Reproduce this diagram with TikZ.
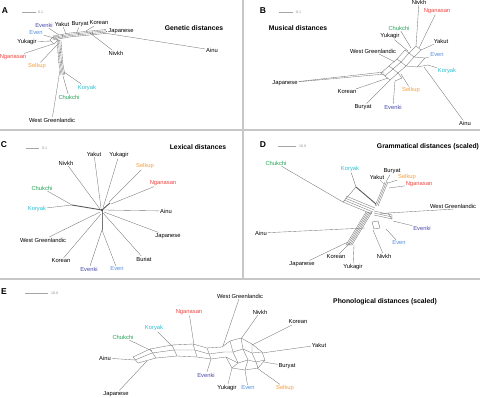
\documentclass[tikz,border=0pt]{standalone}
\usepackage{fontspec}
\setmainfont{Liberation Sans}
\definecolor{ngared}{RGB}{238,66,62}
\definecolor{selorange}{RGB}{245,160,62}
\definecolor{korcyan}{RGB}{40,192,210}
\definecolor{chugreen}{RGB}{34,160,84}
\definecolor{evkblue}{RGB}{72,72,172}
\definecolor{evnblue}{RGB}{84,140,222}
\definecolor{netgray}{RGB}{118,118,118}

\begin{document}
\begin{tikzpicture}[x=1pt,y=-1pt,
    lbl/.style={font=\fontsize{5.8}{7}\selectfont, inner sep=0.8pt},
    ttl/.style={font=\bfseries\fontsize{6.8}{8}\selectfont},
    pnl/.style={font=\bfseries\fontsize{8.5}{9}\selectfont},
    net/.style={draw=netgray, line width=0.35pt},
    leaf/.style={draw=netgray, line width=0.35pt},
    trunk/.style={draw=black!65, line width=0.9pt},
    sep/.style={draw=black!22, line width=1.3pt},
    bar/.style={draw=black!35, line width=0.6pt},
    barlbl/.style={font=\fontsize{3.6}{4}\selectfont, text=black!45, anchor=west, inner sep=1pt}]
\useasboundingbox (0,0) rectangle (480,397);

% panel frames
\draw[sep] (0,130) -- (480,130);
\draw[sep] (0,279) -- (480,279);
\draw[sep] (243,0) -- (243,279);

% ---------------- A: genetic
\node[pnl] (A) at (5,11) {A};
\coordinate (A-bar1) at (22,12); \coordinate (A-bar2) at (36,12);
\draw[bar] (A-bar1) -- (A-bar2);
\node[barlbl] (A-scale) at (37,12) {0.1};
\node[ttl] (A-title) at (194,28) {Genetic distances};

\foreach \d in {0,1.3,2.6,3.9}{
    \draw[net] (53,36+\d) -- (70,33+\d) -- (106,29.5+\d);
    \draw[net] (57+\d,40) -- (59+\d,64) -- (61+\d,75);
}
\draw[net] (50,40) -- (54,36.5) -- (58,40) -- (54,44) -- cycle;
\draw[net] (62,34.2) -- (63,38.4) (78,32.2) -- (79,36.2) (92,30.8) -- (93,34.9);
\draw[net] (57,52) -- (61.5,52.5) (58,62) -- (62.5,62.5);

\foreach \nm/\ax/\ay/\lx/\ly/\tx/\col in {
    ainu/104/33/212/50/Ainu/black,
    japanese/106/31/121/31/Japanese/black,
    korean/86/31/99/23/Korean/black,
    buryat/77/32/80/24/Buryat/black,
    yakut/66/34/62/24/Yakut/black,
    evenki/59/35/44/25/Evenki/evkblue,
    even/54/38/36/33/Even/evnblue,
    yukagir/51/41/27/42/Yukagir/black,
    nganasan/53/44/13/57/Nganasan/ngared,
    selkup/57/45/37/66/Selkup/selorange,
    nivkh/90/33/116/53/Nivkh/black,
    koryak/64/72/87/88/Koryak/korcyan,
    chukchi/63/76/69/97/Chukchi/chugreen,
    wg/60/70/52/120/West Greenlandic/black}{
    \coordinate (A-\nm-0) at (\ax,\ay);
    \node[lbl, text=\col] (A-\nm) at (\lx,\ly) {\tx};
    \draw[leaf] (A-\nm-0) -- (A-\nm);
}

% ---------------- B: musical
\node[pnl] (B) at (263,11) {B};
\coordinate (B-bar1) at (279,12); \coordinate (B-bar2) at (293,12);
\draw[bar] (B-bar1) -- (B-bar2);
\node[barlbl] (B-scale) at (295,12) {0.1};
\node[ttl] (B-title) at (298,28) {Musical distances};

\draw[net] (381,73) -- (389,66) -- (397,59) -- (405,50);
\draw[net] (385,76) -- (393,69) -- (401,62) -- (409,53) -- (416,46);
\draw[net] (390,80) -- (398,73) -- (406,66) -- (414,57) -- (421,50);
\draw[net] (381,73) -- (385,76) (389,66) -- (393,69) (397,59) -- (401,62) (405,50) -- (409,53);
\draw[net] (385,76) -- (390,80) (393,69) -- (398,73) (401,62) -- (406,66) (409,53) -- (414,57) (416,46) -- (421,50);
\draw[net] (406,66) -- (417,67) -- (425,58) -- (414,57);
\draw[net] (417,67) -- (428,65) (398,73) -- (402,78) -- (395,81);

\foreach \nm/\ax/\ay/\lx/\ly/\tx/\col in {
    nivkh/416/46/419/2/Nivkh/black,
    nganasan/419/48/437/11/Nganasan/ngared,
    chukchi/411/48/399/28/Chukchi/chugreen,
    yukagir/408/51/390/36/Yukagir/black,
    yakut/421/50/441/41/Yakut/black,
    wg/395/62/373/51/West Greenlandic/black,
    even/425/58/437/55/Even/evnblue,
    koryak/428/65/447/71/Koryak/korcyan,
    japanese/385/74/285/83/Japanese/black,
    korean/388/78/347/92/Korean/black,
    selkup/401/74/411/90/Selkup/selorange,
    buryat/390/80/363/107/Buryat/black,
    evenki/395/81/393/107/Evenki/evkblue,
    ainu/424/67/465/123/Ainu/black}{
    \coordinate (B-\nm-0) at (\ax,\ay);
    \node[lbl, text=\col] (B-\nm) at (\lx,\ly) {\tx};
    \draw[leaf] (B-\nm-0) -- (B-\nm);
}
\coordinate (B-japanese-1) at (384,72);
\draw[leaf] (B-japanese-1) -- (B-japanese);

% ---------------- C: lexical
\node[pnl] (C) at (4,145) {C};
\coordinate (C-bar1) at (26,148); \coordinate (C-bar2) at (39,148);
\draw[bar] (C-bar1) -- (C-bar2);
\node[barlbl] (C-scale) at (41,148) {0.1};
\node[ttl] (C-title) at (198,147) {Lexical distances};

\coordinate (C-c) at (102,210);
\coordinate (C-left) at (72,205);
\coordinate (C-right) at (110,203);
\coordinate (C-down) at (102,230);
\draw[trunk] (C-c) -- (C-left);
\draw[trunk] (C-c) -- (C-right);
\draw[net, line width=0.6pt] (C-c) -- (C-down);
\fill[black!70] (C-c) circle (1.3);

\foreach \nm/\ax/\ay/\lx/\ly/\tx/\col in {
    yakut/101/208/94/154/Yakut/black,
    yukagir/103/208/119/155/Yukagir/black,
    nivkh/100/209/66/163/Nivkh/black,
    selkup/109/202/145/166/Selkup/selorange,
    nganasan/111/204/163/183/Nganasan/ngared,
    chukchi/72/205/42/188/Chukchi/chugreen,
    koryak/72/205/37/209/Koryak/korcyan,
    ainu/104/210/166/211/Ainu/black,
    japanese/104/212/168/236/Japanese/black,
    wg/100/212/43/240/West Greenlandic/black,
    korean/101/214/61/261/Korean/black,
    buriat/103/213/144/259/Buriat/black,
    evenki/102/230/89/269/Evenki/evkblue,
    even/102/230/117/269/Even/evnblue}{
    \coordinate (C-\nm-0) at (\ax,\ay);
    \node[lbl, text=\col] (C-\nm) at (\lx,\ly) {\tx};
    \draw[leaf] (C-\nm-0) -- (C-\nm);
}

% ---------------- D: grammatical
\node[pnl] (D) at (263,145) {D};
\coordinate (D-bar1) at (278,146); \coordinate (D-bar2) at (296,146);
\draw[bar] (D-bar1) -- (D-bar2);
\node[barlbl] (D-scale) at (298,146) {10.0};
\node[ttl] (D-title) at (428,147) {Grammatical distances (scaled)};

\foreach \d in {0,2,4,6}
    \draw[net] (343+0.5*\d,202-\d) -- (372+0.5*\d,214-\d);
\foreach \d in {0,1.5,3,4.5,6}
    \draw[net] (346+\d,245) -- (366+\d,212);
\foreach \d in {0,1.5,3}
    \draw[net] (375+\d,206) -- (385+\d,182);
\foreach \d in {0,2,4}
    \draw[net] (374,211+\d) -- (392,215+\d);
\draw[net] (343,202) -- (356,187) (392,215) -- (392,219) (346,245) -- (352,245);
\draw[net] (372,222) -- (378,221) -- (380,228) -- (374,229) -- cycle;
\draw[net] (380,214) -- (388,213) -- (392,219);
\draw[trunk] (356,187) -- (376,204);

\foreach \nm/\ax/\ay/\lx/\ly/\tx/\col in {
    chukchi/343/202/276/163/Chukchi/chugreen,
    koryak/356/187/350/169/Koryak/korcyan,
    yakut/384/184/377/177/Yakut/black,
    buryat/386/182/392/171/Buryat/black,
    selkup/388/183/407/177/Selkup/selorange,
    nganasan/389/188/419/184/Nganasan/ngared,
    evenki/393/221/422/228/Evenki/evkblue,
    even/386/229/399/243/Even/evnblue,
    ainu/365/228/261/233/Ainu/black,
    nivkh/373/230/384/256/Nivkh/black,
    korean/350/243/336/257/Korean/black,
    japanese/348/242/302/264/Japanese/black,
    yukagir/354/245/353/267/Yukagir/black}{
    \coordinate (D-\nm-0) at (\ax,\ay);
    \node[lbl, text=\col] (D-\nm) at (\lx,\ly) {\tx};
    \draw[leaf] (D-\nm-0) -- (D-\nm);
}
\coordinate (D-wg-0) at (388,213);
\node[lbl] (D-wg) at (453,206) {West Greenlandic};
\draw[leaf] (D-wg-0) -- (D-wg.south);

% ---------------- E: phonological
\node[pnl] (E) at (4,292) {E};
\coordinate (E-bar1) at (25,293); \coordinate (E-bar2) at (48,293);
\draw[bar] (E-bar1) -- (E-bar2);
\node[barlbl] (E-scale) at (50,293) {10.0};
\node[ttl] (E-title) at (385,302) {Phonological distances (scaled)};

\draw[net] (133,357) -- (150,349) -- (172,345) -- (193,344) -- (207,348) -- (222,347);
\draw[net] (135,360) -- (152,353) -- (174,350) -- (195,350) -- (209,354) -- (224,352);
\draw[net] (138,363) -- (156,358) -- (177,356) -- (197,357) -- (211,359) -- (226,357);
\draw[net] (133,357) -- (138,363) (150,349) -- (156,358) (172,345) -- (177,356) (193,344) -- (197,357) (207,348) -- (211,359);
\draw[net] (222,347) -- (230,341) -- (241,338) -- (252,344) -- (262,352) -- (265,360) -- (258,368) -- (245,370) -- (232,368) -- (226,357);
\draw[net] (230,341) -- (233,352) -- (238,363) -- (232,368);
\draw[net] (241,338) -- (243,349) -- (248,360) -- (245,370);
\draw[net] (252,344) -- (252,353) -- (256,362) -- (258,368);
\draw[net] (224,352) -- (233,352) -- (243,349) -- (252,353) -- (262,352);
\draw[net] (226,357) -- (238,363) -- (248,360) -- (256,362) -- (265,360);

\foreach \nm/\ax/\ay/\lx/\ly/\tx/\col in {
    wg/223/346/240/296/West Greenlandic/black,
    nivkh/241/339/260/312/Nivkh/black,
    korean/252/345/298/322/Korean/black,
    yakut/262/353/319/345/Yakut/black,
    buryat/264/362/287/366/Buryat/black,
    selkup/257/368/285/388/Selkup/selorange,
    even/245/370/248/388/Even/evnblue,
    yukagir/232/368/227/388/Yukagir/black,
    evenki/211/359/206/375/Evenki/evkblue,
    nganasan/194/345/189/312/Nganasan/ngared,
    koryak/172/346/154/328/Koryak/korcyan,
    chukchi/152/351/123/337/Chukchi/chugreen,
    ainu/135/360/105/358/Ainu/black,
    japanese/147/361/116/394/Japanese/black}{
    \coordinate (E-\nm-0) at (\ax,\ay);
    \node[lbl, text=\col] (E-\nm) at (\lx,\ly) {\tx};
    \draw[leaf] (E-\nm-0) -- (E-\nm);
}
\end{tikzpicture}
\end{document}
